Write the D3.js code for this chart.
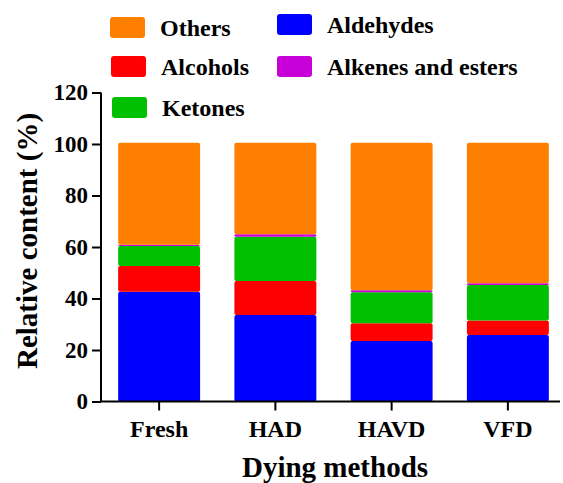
<!DOCTYPE html>
<html><head><script src="https://d3js.org/d3.v7.min.js"></script></head>
<body style="margin:0">
<svg id="chart" width="563" height="483"></svg>
<script>
// data (percent)
const categories = ["Fresh", "HAD", "HAVD", "VFD"];
const aldehydes = [42.6, 33.6, 23.5, 25.8];
const alcohols = [10.0, 13.2, 6.9, 5.7];
const ketones = [7.8, 17.2, 12.0, 13.7];
const alkenesEsters = [0.5, 1.0, 0.8, 0.7];
const others = [39.6, 35.5, 57.3, 54.6];
const yTicks = [0, 20, 40, 60, 80, 100, 120];

const seriesNames = ["Aldehydes", "Alcohols", "Ketones", "Alkenes and esters", "Others"];
const seriesValues = [aldehydes, alcohols, ketones, alkenesEsters, others];
const colors = ["#0000ff", "#ff0000", "#00c000", "#c800d8", "#ff8000"];

const FONT = "Liberation Serif";

const svg = d3.select("#chart");

const table = categories.map((c, i) => {
  const row = { cat: c };
  seriesNames.forEach((s, j) => { row[s] = seriesValues[j][i]; });
  return row;
});

const stack = d3.stack().keys(seriesNames)(table);

const x = d3.scaleBand()
  .domain(categories)
  .range([101, 566])
  .paddingInner(0.295)
  .paddingOuter(0.1475);

const y = d3.scaleLinear()
  .domain([0, 120])
  .range([401.5, 92.5]);

const color = d3.scaleOrdinal().domain(seriesNames).range(colors);

// bars
svg.append("g")
  .selectAll("g")
  .data(stack)
  .join("g")
  .attr("fill", d => color(d.key))
  .selectAll("rect")
  .data(d => d)
  .join("rect")
  .attr("x", d => x(d.data.cat))
  .attr("y", d => y(d[1]))
  .attr("width", x.bandwidth())
  .attr("height", d => y(d[0]) - y(d[1]))
  .attr("rx", 2);

// y axis
const yAxis = svg.append("g")
  .attr("transform", "translate(101,0)")
  .call(d3.axisLeft(y).tickValues(yTicks).tickSize(9).tickPadding(4));
yAxis.selectAll("text")
  .style("font-family", FONT).style("font-weight", "bold")
  .style("font-size", "23px").attr("fill", "#000");
yAxis.selectAll("line, path").attr("stroke", "#000").attr("stroke-width", 2);
yAxis.select(".domain").attr("d", "M0,92.5V401.5");

// x axis
const xAxis = svg.append("g")
  .attr("transform", "translate(0,401.5)")
  .call(d3.axisBottom(x).tickSize(9).tickPadding(9));
xAxis.selectAll("text")
  .style("font-family", FONT).style("font-weight", "bold")
  .style("font-size", "24px").attr("fill", "#000");
xAxis.selectAll("line, path").attr("stroke", "#000").attr("stroke-width", 2);
xAxis.select(".domain").attr("d", "M100,0H560");

// axis titles
svg.append("text")
  .attr("x", 335)
  .attr("y", 477)
  .attr("text-anchor", "middle")
  .style("font-family", FONT).style("font-weight", "bold")
  .style("font-size", "29px")
  .text("Dying methods");

svg.append("text")
  .attr("transform", "translate(37,241) rotate(-90)")
  .attr("text-anchor", "middle")
  .style("font-family", FONT).style("font-weight", "bold")
  .style("font-size", "29px")
  .text("Relative content (%)");

// legend
const legend = [
  { name: "Others", x: 110, y: 17 },
  { name: "Aldehydes", x: 277, y: 14 },
  { name: "Alcohols", x: 111, y: 56 },
  { name: "Alkenes and esters", x: 277, y: 56 },
  { name: "Ketones", x: 112, y: 97 }
];

const lg = svg.append("g")
  .selectAll("g")
  .data(legend)
  .join("g")
  .attr("transform", d => `translate(${d.x},${d.y})`);

lg.append("rect")
  .attr("width", 35)
  .attr("height", 21)
  .attr("rx", 3)
  .attr("fill", d => color(d.name));

lg.append("text")
  .attr("x", 50)
  .attr("y", 19)
  .style("font-family", FONT).style("font-weight", "bold")
  .style("font-size", "24px")
  .text(d => d.name);
</script>
</body>
</html>
